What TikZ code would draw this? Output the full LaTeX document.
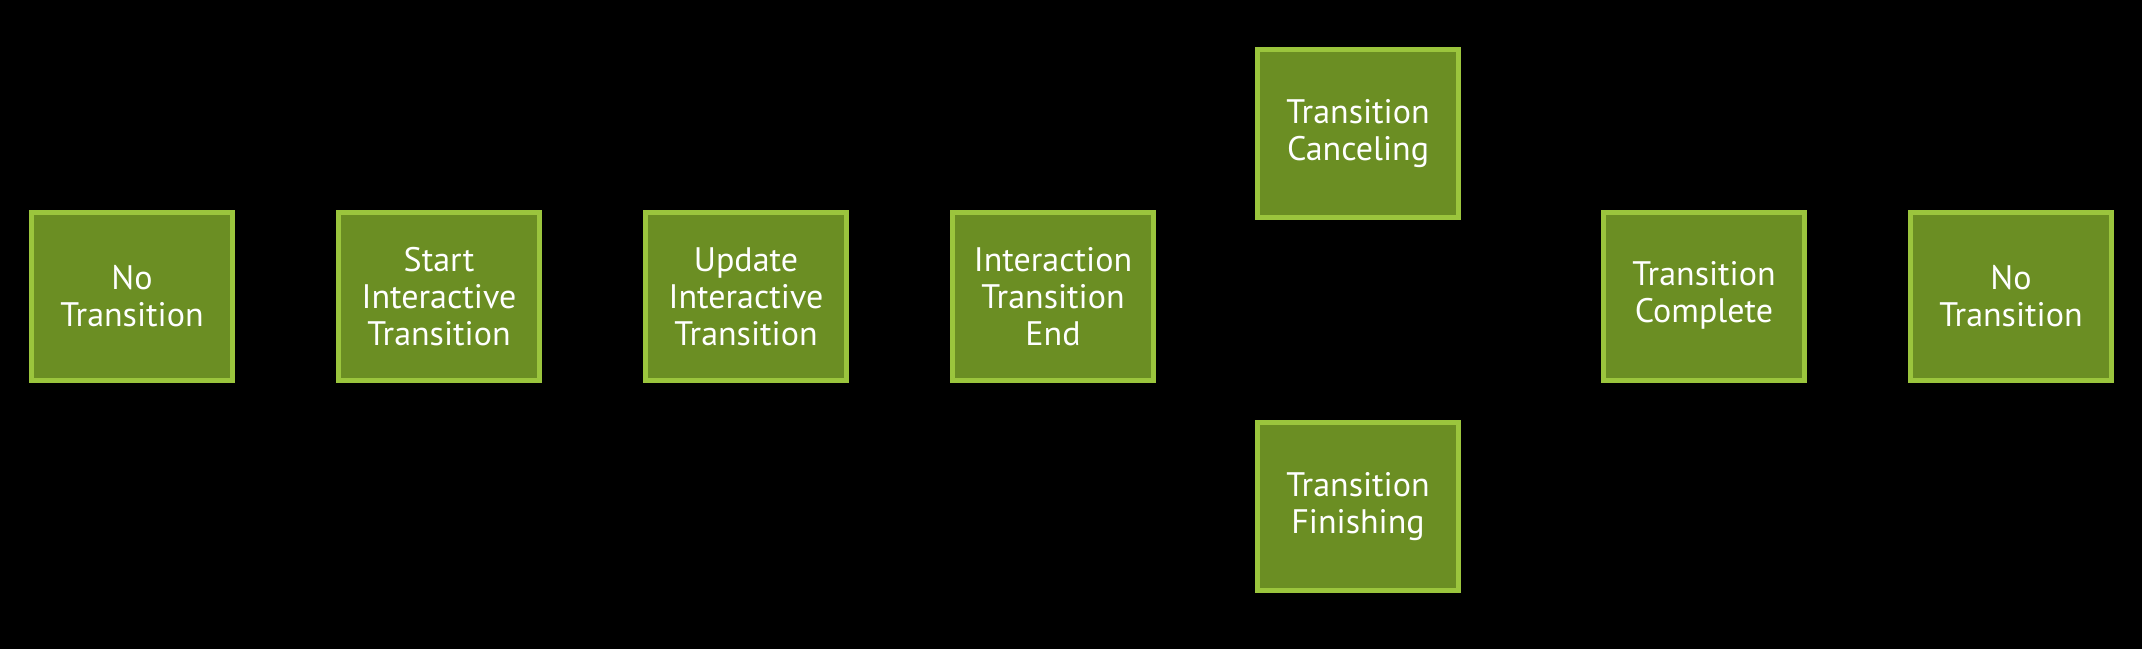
\documentclass[tikz,border=0pt]{standalone}
\usepackage{fontspec}
\setmainfont{PT Sans}
\usetikzlibrary{positioning}
\definecolor{boxfill}{RGB}{107,142,35}
\definecolor{boxline}{RGB}{155,197,61}
\tikzstyle{state} = [rectangle, minimum width=201pt, minimum height=168pt, inner sep=0pt, align=center, text centered, line width=5pt, draw=boxline, fill=boxfill, text=white, font=\fontsize{34}{37}\selectfont]

\begin{document}
\begin{tikzpicture}[node distance=307pt]
	\useasboundingbox (0,0) rectangle (2142pt,-648pt);
	\fill [black] (-2pt,2pt) rectangle (2144pt,-650pt);
	\node (nt1) [state] at (132pt,-296.5pt) {No\\Transition};
	\node (sit) [state, right of=nt1] {Start\\Interactive\\Transition};
	\node (uit) [state, right of=sit] {Update\\Interactive\\Transition};
	\node (ite) [state, right of=uit] {Interaction\\Transition\\End};
	\node (tcan) [state, right of=ite, xshift=-2pt, yshift=163pt] {Transition\\Canceling};
	\node (tfin) [state, right of=ite, xshift=-2pt, yshift=-210pt] {Transition\\Finishing};
	\node (tcomp) [state, right of=ite, node distance=651pt] {Transition\strut\\Complete\strut};
	\node (nt2) [state, right of=tcomp] {No\\Transition};
\end{tikzpicture}
\end{document}
